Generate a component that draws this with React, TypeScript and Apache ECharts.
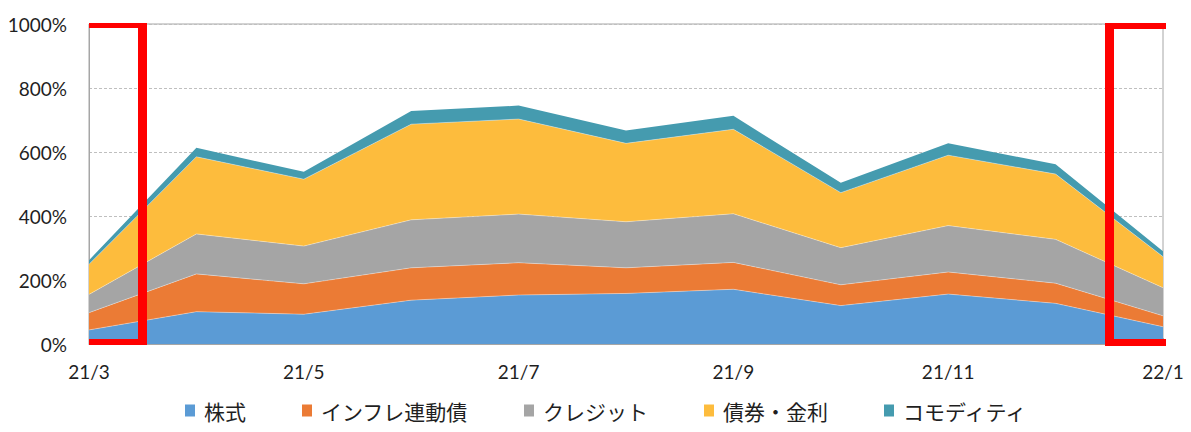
import React, { useEffect, useRef } from "react";
import * as echarts from "echarts";

const categories = ["21/3", "21/4", "21/5", "21/6", "21/7", "21/8", "21/9", "21/10", "21/11", "21/12", "22/1"];
const seriesNames = ["株式", "インフレ連動債", "クレジット", "債券・金利", "コモディティ"];
const equity = [44, 101, 93, 137, 153, 158, 171, 120, 156, 127, 54];
const inflationLinked = [54, 118, 95, 101, 101, 80, 84, 65, 69, 63, 34];
const credit = [57, 125, 118, 150, 152, 144, 152, 116, 145, 137, 88];
const bondsRates = [94, 241, 209, 299, 297, 245, 264, 172, 220, 204, 97];
const commodity = [13, 28, 23, 41, 42, 40, 42, 31, 37, 31, 17];
const yTicks = { min: 0, max: 1000, interval: 200 };
const colors = ["#5B9BD5", "#EB7B35", "#A5A5A5", "#FDBC3D", "#459BAF"];

export default function App() {
  const ref = useRef<HTMLDivElement>(null);
  useEffect(() => {
    if (!ref.current) return;
    const chart = echarts.init(ref.current, null, { renderer: "svg" });
    const values = [equity, inflationLinked, credit, bondsRates, commodity];
    const red = "#FF0000";
    const bar = (x: number, y: number, w: number, h: number) => ({
      type: "rect",
      shape: { x, y, width: w, height: h },
      style: { fill: red },
      z: 100,
    });
    chart.setOption({
      animation: false,
      color: colors,
      grid: {
        left: 89,
        right: 28,
        top: 24,
        bottom: 88,
        show: true,
        borderColor: "#A6A6A6",
        borderWidth: 1,
      },
      legend: {
        data: seriesNames,
        bottom: 6,
        left: 180,
        itemWidth: 10,
        itemHeight: 12,
        itemGap: 56,
        icon: "rect",
        textStyle: { fontFamily: "Noto Sans CJK JP", fontSize: 21, color: "#1F1F1F", padding: [0, 0, 0, 4] },
      },
      xAxis: {
        type: "category",
        data: categories,
        boundaryGap: false,
        axisLine: { lineStyle: { color: "#A6A6A6" } },
        axisTick: { show: true, inside: true, length: 6, interval: 1, lineStyle: { color: "#A6A6A6" } },
        axisLabel: { interval: 1, margin: 18, fontFamily: "Lato", fontSize: 19, color: "#1F1F1F" },
        splitLine: { show: false },
      },
      yAxis: {
        type: "value",
        min: yTicks.min,
        max: yTicks.max,
        interval: yTicks.interval,
        axisLine: { show: true, lineStyle: { color: "#A6A6A6" } },
        axisTick: { show: false },
        axisLabel: {
          formatter: (v: number) => `${v}%`,
          margin: 22,
          fontFamily: "Lato",
          fontSize: 19,
          color: "#1F1F1F",
        },
        splitLine: { show: true, lineStyle: { color: "#BFBFBF", type: [3, 2] } },
      },
      series: seriesNames.map((name, i) => ({
        name,
        type: "line",
        stack: "total",
        data: values[i],
        symbol: "none",
        lineStyle: { width: i === 4 ? 0 : 0.8, color: "rgba(255,255,255,0.45)" },
        areaStyle: { color: colors[i], opacity: 1 },
        itemStyle: { color: colors[i] },
      })),
      graphic: [
        bar(89, 23, 58, 5),
        bar(138, 23, 9, 322),
        bar(89, 339, 58, 6),
        bar(1105, 23, 61, 6),
        bar(1105, 23, 9, 323),
        bar(1105, 339, 61, 7),
      ],
    });
    return () => chart.dispose();
  }, []);
  return (
    <div
      ref={ref}
      style={{ position: "fixed", left: 0, top: 0, width: "1191px", height: "432px", background: "#fff" }}
    />
  );
}
